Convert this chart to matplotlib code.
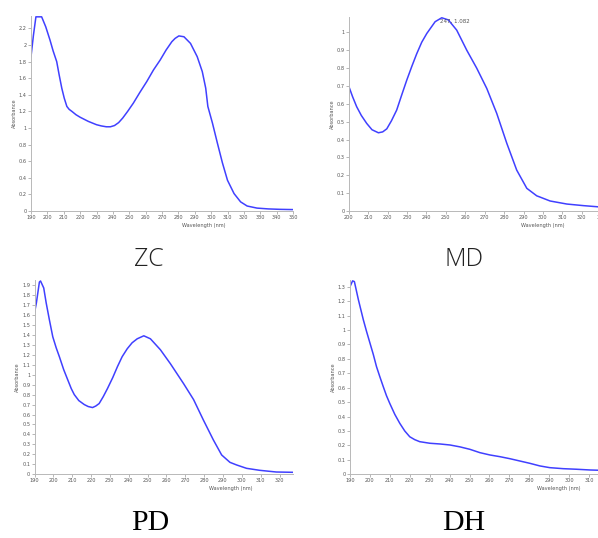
"""UV-Vis absorbance spectra, four samples in a 2x2 grid"""
import numpy as np, matplotlib
matplotlib.use("Agg")
import matplotlib.pyplot as plt
from matplotlib.ticker import FormatStrFormatter, MultipleLocator

# ---- data ----
zc_nm  = [190, 191.5, 193, 196.5, 199, 201.6, 203.5, 205.7, 207.2, 208.8, 210.3, 211.9, 213.3,
          215, 217.5, 220, 225, 230, 233, 236, 238.5, 241, 243.5, 246, 249, 252.5, 256.5, 260.7,
          264.8, 268.9, 272.5, 276, 278, 280.3, 283.4, 287.4, 291.5, 294.6, 296.7, 298,
          300.8, 303.8, 306.9, 310, 314, 318, 322, 328, 335, 342, 350]
zc_abs = [1.86, 2.12, 2.34, 2.34, 2.22, 2.06, 1.93, 1.80, 1.64, 1.48, 1.36, 1.26, 1.225,
          1.20, 1.16, 1.13, 1.08, 1.04, 1.025, 1.015, 1.015, 1.03, 1.065, 1.12, 1.20, 1.30, 1.43,
          1.56, 1.70, 1.82, 1.94, 2.04, 2.08, 2.11, 2.10, 2.02, 1.86, 1.68, 1.48, 1.26,
          1.06, 0.82, 0.58, 0.37, 0.21, 0.11, 0.06, 0.035, 0.025, 0.02, 0.017]

md_nm  = [200, 202, 204.1, 206.5, 209.3, 212, 215.3, 217.5, 219.6, 222, 224.7, 227.3, 229.9,
          232.5, 235, 237.6, 240.2, 244.5, 247.9, 251.3, 255.6, 260.8, 265.9, 271.1, 276.2,
          281.4, 286.5, 291.7, 296.8, 298.5, 303.7, 312.3, 320.9, 330]
md_abs = [0.70, 0.64, 0.584, 0.535, 0.49, 0.455, 0.438, 0.443, 0.46, 0.505, 0.565, 0.65, 0.733,
          0.81, 0.88, 0.945, 0.994, 1.06, 1.082, 1.07, 1.013, 0.90, 0.80, 0.686, 0.547,
          0.379, 0.229, 0.127, 0.085, 0.078, 0.056, 0.039, 0.03, 0.022]

pd_nm  = [190, 191, 192.6, 193.2, 194.9, 196.2, 197.9, 199.7, 201.5, 203.2, 205.5, 207.6, 209.5,
          211.1, 213.5, 216.4, 218.5, 220.8, 222.5, 224.3, 226.5, 228.7, 231.5, 234, 236.5,
          239.2, 241.8, 244.5, 248, 251.5, 256.8, 262.1, 269.1, 274.4, 279.6,
          284.9, 289.3, 293.7, 297.2, 302.5, 309.5, 318.3, 327]
pd_abs = [1.62, 1.72, 1.93, 1.94, 1.87, 1.72, 1.55, 1.38, 1.27, 1.18, 1.05, 0.95, 0.86,
          0.80, 0.74, 0.70, 0.68, 0.67, 0.685, 0.71, 0.78, 0.86, 0.97, 1.08, 1.18,
          1.26, 1.32, 1.36, 1.39, 1.36, 1.25, 1.11, 0.91, 0.75, 0.545,
          0.345, 0.194, 0.12, 0.094, 0.06, 0.04, 0.023, 0.02]

dh_nm  = [190, 191.3, 192.2, 194.2, 196.7, 198.3, 200, 201.7, 203.3, 205, 206.7, 208.3, 210,
          212.5, 215, 217.5, 220, 222.5, 225, 230.1, 235.2, 240.2, 245.2, 250.2, 255.2, 260.2,
          265.3, 270.3, 275.3, 280.3, 285.3, 290.3, 297, 303.7, 310.4, 315]
dh_abs = [1.30, 1.34, 1.335, 1.21, 1.07, 0.99, 0.91, 0.83, 0.746, 0.675, 0.607, 0.545, 0.49,
          0.415, 0.353, 0.30, 0.26, 0.24, 0.226, 0.215, 0.21, 0.203, 0.19, 0.173, 0.15, 0.134,
          0.122, 0.108, 0.092, 0.076, 0.058, 0.046, 0.039, 0.035, 0.03, 0.028]

W, H = 598, 538
fig = plt.figure(figsize=(W/100, H/100), dpi=100, facecolor="white")

def px(l, r, t, b):  # pixel box -> figure fraction
    return [l/W, 1-b/H, (r-l)/W, (b-t)/H]

panels = [
    (zc_nm, zc_abs, px(31, 293, 16, 211),        (190, 350), (0, 2.35), 0.2, 0.66),
    (md_nm, md_abs, px(348.7, 601.2, 16.7, 211), (200, 330), (0, 1.088), 0.1, 0.77),
    (pd_nm, pd_abs, px(34.5, 292.7, 280, 474.3), (190, 327), (0, 1.95), 0.1, 0.76),
    (dh_nm, dh_abs, px(350, 599, 280, 474.3),    (190, 315), (0, 1.346), 0.1, 0.84),
]

axes = []
for nm, ab, pos, xl, yl, ys, xlab in panels:
    ax = fig.add_axes(pos)
    ax.plot(nm, ab, color="#4040ff", lw=1.1, solid_joinstyle="round")
    ax.set_xlim(*xl); ax.set_ylim(*yl)
    ax.xaxis.set_major_locator(MultipleLocator(10))
    ax.yaxis.set_major_locator(MultipleLocator(ys))
    ax.yaxis.set_major_formatter(FormatStrFormatter("%g"))
    ax.tick_params(labelsize=3.6, colors="#9a9a9a", labelcolor="#555", length=2, width=0.5, pad=1)
    for s in ["top", "right"]: ax.spines[s].set_visible(False)
    for s in ["left", "bottom"]:
        ax.spines[s].set_color("#b8b8b8"); ax.spines[s].set_linewidth(0.7)
    ax.set_xlabel("Wavelength (nm)", fontsize=3.6, color="#555")
    ax.xaxis.set_label_coords(xlab, -0.06)
    ax.set_ylabel("Absorbance", fontsize=3.6, color="#555")
    ax.yaxis.set_label_coords(-0.055, 0.5)
    axes.append(ax)

# peak marker text on MD
axes[1].text(247, 1.075, "247, 1.082", fontsize=4, color="#555", ha="left", va="top")

# sample captions
fig.text(149/W, 1-259/H, "ZC", fontsize=18, family="Open Sans", weight="light",
         color="#222", ha="center", va="center")
fig.text(464/W, 1-259/H, "MD", fontsize=18, family="Open Sans", weight="light",
         color="#222", ha="center", va="center")
fig.text(150.5/W, 1-523/H, "PD", fontsize=21.5, family="Liberation Serif",
         color="black", ha="center", va="center")
fig.text(463.7/W, 1-523/H, "DH", fontsize=21.5, family="Liberation Serif",
         color="black", ha="center", va="center")

fig.savefig("out.png", dpi=100, facecolor="white")
